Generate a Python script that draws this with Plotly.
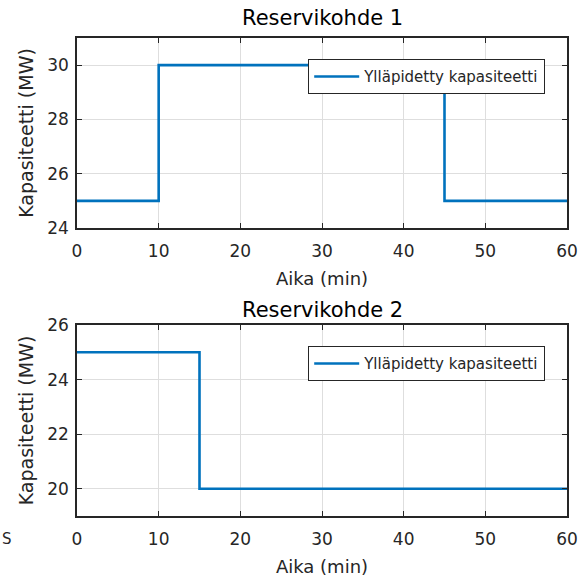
import plotly.graph_objects as go

# Data
aika1 = [0, 10, 45, 60]
kapasiteetti1 = [25, 30, 25, 25]
aika2 = [0, 15, 60]
kapasiteetti2 = [25, 20, 20]
x_ticks = [0, 10, 20, 30, 40, 50, 60]
y_ticks1 = [24, 26, 28, 30]
y_ticks2 = [20, 22, 24, 26]
series_name = "Ylläpidetty kapasiteetti"
titles = ["Reservikohde 1", "Reservikohde 2"]
x_title = "Aika (min)"
y_title = "Kapasiteetti (MW)"

W, H = 580, 577
blue = "#0072BD"
font = "DejaVu Sans, Verdana, sans-serif"
dark = "#262626"

def py(p):
    return 1 - p / H

fig = go.Figure()
fig.add_trace(go.Scatter(x=aika1, y=kapasiteetti1, mode="lines", line_shape="hv",
                         line=dict(color=blue, width=2.6), name=series_name,
                         xaxis="x", yaxis="y", legend="legend", showlegend=True))
fig.add_trace(go.Scatter(x=aika2, y=kapasiteetti2, mode="lines", line_shape="hv",
                         line=dict(color=blue, width=2.6), name=series_name,
                         xaxis="x2", yaxis="y2", legend="legend2", showlegend=True))

xdom = [77 / W, 567 / W]
axis_common = dict(showline=True, linecolor=dark, linewidth=1.5, mirror="ticks",
                   ticks="inside", ticklen=5, tickcolor=dark, tickwidth=1.2,
                   showgrid=True, gridcolor="#dedede", gridwidth=1, zeroline=False,
                   automargin=False,
                   tickfont=dict(family=font, size=17, color=dark))
legend_common = dict(xanchor="left", yanchor="top",
                     bgcolor="white", bordercolor=dark, borderwidth=1.2,
                     font=dict(family=font, size=15, color=dark),
                     itemwidth=45, tracegroupgap=0)

fig.update_layout(
    width=W, height=H,
    margin=dict(l=0, r=0, t=0, b=0, pad=0, autoexpand=False),
    paper_bgcolor="white", plot_bgcolor="white",
    showlegend=True,
    font=dict(family=font, color=dark),
    xaxis=dict(domain=xdom, anchor="y", range=[0, 60], tickvals=x_ticks, ticklabelstandoff=7,
               title=dict(text=x_title, font=dict(size=18), standoff=12), **axis_common),
    yaxis=dict(domain=[py(228), py(38)], anchor="x", range=[24, 31], tickvals=y_ticks1,
               ticklabelstandoff=3,
               title=dict(text=y_title, font=dict(size=19), standoff=9), **axis_common),
    xaxis2=dict(domain=xdom, anchor="y2", range=[0, 60], tickvals=x_ticks, ticklabelstandoff=7,
                title=dict(text=x_title, font=dict(size=18), standoff=12), **axis_common),
    yaxis2=dict(domain=[py(516), py(325)], anchor="x2", range=[19, 26], tickvals=y_ticks2,
                ticklabelstandoff=3,
                title=dict(text=y_title, font=dict(size=19), standoff=9), **axis_common),
    legend=dict(x=308 / W, y=py(59), **legend_common),
    legend2=dict(x=308 / W, y=py(346), **legend_common),
    annotations=[
        dict(text=titles[0], x=322 / W, y=py(18), xref="paper", yref="paper",
             xanchor="center", yanchor="middle",
             showarrow=False, font=dict(family=font, size=21, color="black")),
        dict(text=titles[1], x=322 / W, y=py(310), xref="paper", yref="paper",
             xanchor="center", yanchor="middle",
             showarrow=False, font=dict(family=font, size=21, color="black")),
        dict(text="S", x=0, y=py(539), xref="paper", yref="paper",
             xanchor="left", yanchor="middle",
             showarrow=False, font=dict(family=font, size=15, color=dark)),
    ],
)

fig.write_html("out.html", config={"displayModeBar": False},
               post_script="document.body.style.margin='0px';document.body.style.overflow='hidden';")
